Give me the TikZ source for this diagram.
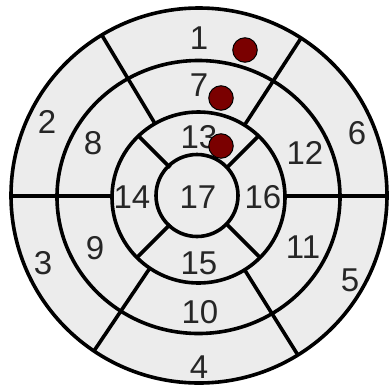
\documentclass[tikz,border=0pt]{standalone}
\usepackage{fontspec}
\setmainfont{Liberation Sans}
\usetikzlibrary{calc}
\definecolor{segfill}{RGB}{236,236,236}
\definecolor{dotred}{RGB}{122,0,0}
\definecolor{txt}{RGB}{38,38,38}
\begin{document}
\begin{tikzpicture}[x=1pt,y=-1pt,
  seg/.style={line width=3.6pt, draw=black},
  lab/.style={font=\fontsize{33}{33}\selectfont, text=txt, inner sep=0pt},
  dot/.style={circle, fill=dotred, draw=black, line width=1pt, minimum size=24.5pt, inner sep=0pt}]
\useasboundingbox (0,0) rectangle (391,389);
\fill[white] (0,0) rectangle (391,389);
\coordinate (c) at (198.5,196);
\coordinate (co) at (199,195.5);
\coordinate (cm) at (198.5,197);
\coordinate (ca) at (198.5,197.5);
\coordinate (ci) at (197,195.5);
\fill[segfill] (co) ellipse [x radius=188pt, y radius=187.5pt];
% dividers between basal and mid segments
\foreach \a in {0,57,121,180,236,302}
  \draw[seg] ($(c)+(\a:86pt)$) -- ($(c)+(\a:188pt)$);
% apical dividers
\foreach \a in {45,135,225,315}
  \draw[seg] ($(c)+(\a:40pt)$) -- ($(c)+(\a:86pt)$);
% rings
\draw[seg] (co) ellipse [x radius=188pt, y radius=187.5pt];
\draw[seg] (cm) ellipse [x radius=141.5pt, y radius=136.5pt];
\draw[seg] (ca) ellipse [x radius=86.5pt, y radius=85.5pt];
\draw[seg] (ci) circle (41pt);
% labels
\node[lab] (s1) at (199,38) {1};
\node[lab] (s2) at (47,122) {2};
\node[lab] (s3) at (43,263) {3};
\node[lab] (s4) at (199,367) {4};
\node[lab] (s5) at (350,280) {5};
\node[lab] (s6) at (357,133) {6};
\node[lab] (s7) at (199,85) {7};
\node[lab] (s8) at (93,143) {8};
\node[lab] (s9) at (95,248) {9};
\node[lab] (s10) at (200,312) {10};
\node[lab] (s11) at (303,247) {11};
\node[lab] (s12) at (305,153) {12};
\node[lab] (s13) at (199,137) {13};
\node[lab] (s14) at (132,197) {14};
\node[lab] (s15) at (199,263) {15};
\node[lab] (s16) at (263,197) {16};
\node[lab] (s17) at (198,197) {17};
% markers
\node[dot] (d1) at (245,50) {};
\node[dot] (d2) at (221,98) {};
\node[dot] (d3) at (221,146) {};
\end{tikzpicture}
\end{document}
